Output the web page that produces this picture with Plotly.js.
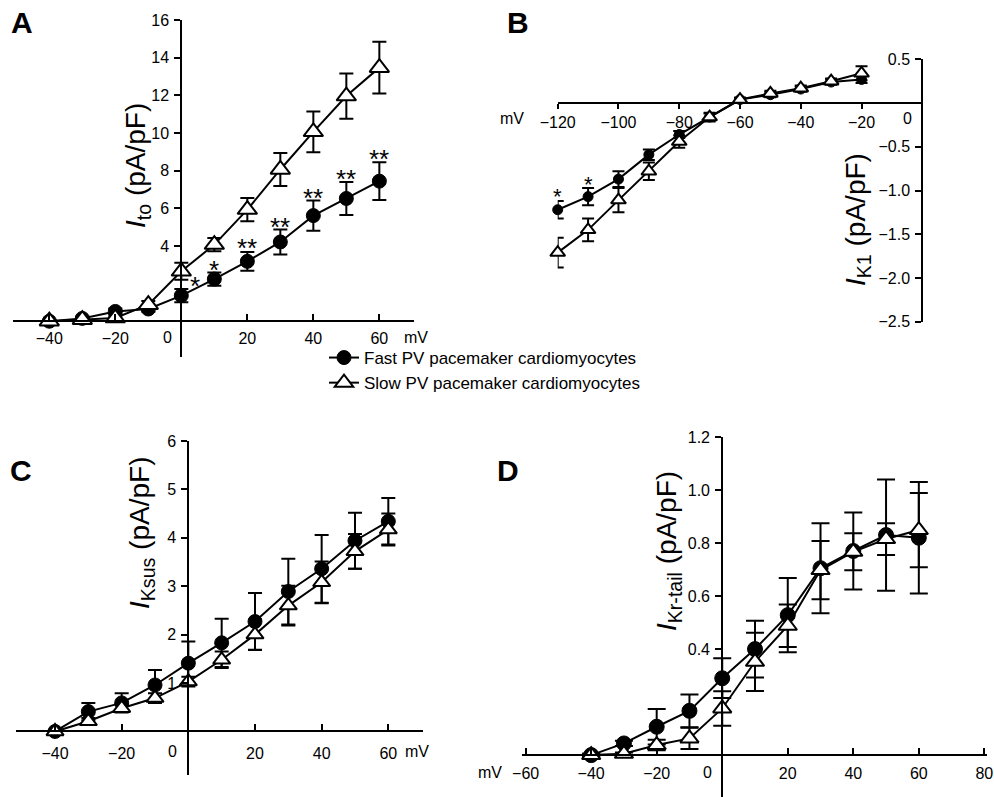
<!DOCTYPE html>
<html>
<head>
<meta charset="utf-8">
<script src="https://cdn.plot.ly/plotly-3.0.1.min.js"></script>
<style>
html,body{margin:0;padding:0;background:#fff;}
#chart{width:994px;height:797px;}
</style>
</head>
<body>
<div id="chart"></div>
<script>
// ---------- data ----------
const voltsA = [-40, -30, -20, -10, 0, 10, 20, 30, 40, 50, 60];
const fastA = [0, 0.15, 0.52, 0.65, 1.36, 2.24, 3.18, 4.21, 5.61, 6.52, 7.44];
const fastAerr = [0.05, 0.1, 0.15, 0.15, 0.35, 0.35, 0.5, 0.66, 0.8, 0.88, 1.0];
const slowA = [0, 0.08, 0.17, 0.88, 2.65, 4.07, 5.93, 8.06, 10.06, 11.96, 13.47];
const slowAerr = [0.05, 0.1, 0.1, 0.2, 0.45, 0.35, 0.62, 0.88, 1.08, 1.2, 1.38];
const starXA = [4, 10, 20, 30, 40, 50, 60];
const starYA = [2.2, 3.0, 4.18, 5.3, 6.84, 7.87, 8.93];
const starTA = ['*', '*', '**', '**', '**', '**', '**'];

const voltsB = [-120, -110, -100, -90, -80, -70, -60, -50, -40, -30, -20];
const fastB = [-1.22, -1.07, -0.87, -0.59, -0.36, -0.16, 0.04, 0.095, 0.16, 0.24, 0.27];
const fastBerr = [0.1, 0.1, 0.09, 0.06, 0.04, 0.04, 0.02, 0.03, 0.03, 0.03, 0.04];
const slowB = [-1.71, -1.45, -1.11, -0.78, -0.44, -0.16, 0.04, 0.11, 0.17, 0.25, 0.34];
const slowBerr = [0.17, 0.13, 0.14, 0.1, 0.07, 0.05, 0.02, 0.03, 0.03, 0.03, 0.08];
const starXB = [-120, -110];
const starYB = [-1.01, -0.88];
const starTB = ['*', '*'];

const voltsC = [-40, -30, -20, -10, 0, 10, 20, 30, 40, 50, 60];
const fastC = [0, 0.41, 0.59, 0.96, 1.41, 1.83, 2.27, 2.89, 3.36, 3.94, 4.34];
const fastCerr = [0.03, 0.18, 0.2, 0.31, 0.45, 0.5, 0.59, 0.68, 0.7, 0.58, 0.48];
const slowC = [0, 0.21, 0.48, 0.69, 1.03, 1.48, 2.0, 2.6, 3.08, 3.72, 4.17];
const slowCerr = [0.03, 0.07, 0.08, 0.1, 0.1, 0.17, 0.31, 0.41, 0.43, 0.36, 0.33];

const voltsD = [-40, -30, -20, -10, 0, 10, 20, 30, 40, 50, 60];
const fastD = [0.0, 0.044, 0.107, 0.167, 0.29, 0.40, 0.528, 0.705, 0.77, 0.83, 0.82];
const fastDerr = [0.005, 0.01, 0.067, 0.062, 0.075, 0.107, 0.14, 0.17, 0.145, 0.21, 0.21];
const slowD = [0.0, 0.005, 0.038, 0.063, 0.176, 0.352, 0.488, 0.698, 0.767, 0.815, 0.849];
const slowDerr = [0.005, 0.005, 0.02, 0.04, 0.065, 0.11, 0.08, 0.11, 0.07, 0.06, 0.14];

const seriesNames = ['Fast PV pacemaker cardiomyocytes', 'Slow PV pacemaker cardiomyocytes'];

const ticksAx = [-40, -20, 0, 20, 40, 60];
const ticksAy = [4, 6, 8, 10, 12, 14, 16];
const ticksBx = [-120, -100, -80, -60, -40, -20, 0];
const ticksBy = [-2.5, -2.0, -1.5, -1.0, -0.5, 0.5];
const ticksCx = [-40, -20, 0, 20, 40, 60];
const ticksCy = [1, 2, 3, 4, 5, 6];
const ticksDx = [-60, -40, -20, 0, 20, 40, 60, 80];
const ticksDy = [0.4, 0.6, 0.8, 1.0, 1.2];

// ---------- geometry ----------
const W = 994, H = 797;
const FONT = 'Arial, "Liberation Sans", Helvetica, sans-serif';
function fmtMinus(v, d) { const s = Math.abs(v).toFixed(d); return (v < 0 ? '\u2212' : '') + s; }

const P = {
  A: {px: [13, 414], py: [20, 357], xr: [-51, 70.5], yr: [-1.9, 16]},
  B: {px: [557.7, 922.3], py: [59.3, 321.7], xr: [-120, 0], yr: [-2.5, 0.5]},
  C: {px: [15.7, 423.3], py: [441, 775], xr: [-51.8, 70.5], yr: [-0.9, 6]},
  D: {px: [521.7, 987.3], py: [437, 797], xr: [-61.2, 80.9], yr: [-0.158, 1.2]}
};
function xdom(p) { return [p.px[0] / W, p.px[1] / W]; }
function ydom(p) { return [(H - p.py[1]) / H, (H - p.py[0]) / H]; }
function zeroX(p) { const d = xdom(p); return d[0] + (d[1] - d[0]) * (0 - p.xr[0]) / (p.xr[1] - p.xr[0]); }
function zeroY(p) { const d = ydom(p); return d[0] + (d[1] - d[0]) * (0 - p.yr[0]) / (p.yr[1] - p.yr[0]); }

const axisCommon = {
  showgrid: false, zeroline: false, showline: true, linecolor: '#000', linewidth: 2,
  tickcolor: '#000', tickwidth: 2, ticklen: 6, tickfont: {family: FONT, size: 16, color: '#000'},
  fixedrange: true
};

// the 0 tick sits on the crossing vertical axis; its "0" label is drawn separately, shifted left
function mkX(p, tickvals, ticks, standoff, len) {
  const tv = tickvals.filter(v => v !== 0);
  return Object.assign({}, axisCommon, {
    domain: xdom(p), range: p.xr, anchor: 'free', position: zeroY(p),
    tickmode: 'array', tickvals: tv, ticktext: tv.map(v => fmtMinus(v, 0)), ticks: ticks,
    ticklabelstandoff: standoff, ticklen: len
  });
}
function mkY(p, tickvals, dec) {
  return Object.assign({}, axisCommon, {
    domain: ydom(p), range: p.yr, anchor: 'free', position: zeroX(p), side: 'left',
    tickmode: 'array', tickvals: tickvals, ticktext: tickvals.map(v => fmtMinus(v, dec)), ticks: 'outside',
    ticklabelstandoff: 2
  });
}

function series(x, y, err, xa, ya, kind, msize, ewidth, legend) {
  const fast = kind === 'fast';
  return {
    type: 'scatter', mode: 'lines+markers', x: x, y: y, xaxis: xa, yaxis: ya,
    name: fast ? seriesNames[0] : seriesNames[1], showlegend: !!legend, legendrank: fast ? 1 : 2,
    line: {color: '#000', width: 2},
    marker: fast ? {symbol: 'circle', size: msize, color: '#000', line: {color: '#000', width: 1}}
                 : {symbol: 'triangle-up', size: msize + 2, color: '#fff', line: {color: '#000', width: 2}},
    error_y: {type: 'data', array: err, visible: true, color: '#000', thickness: 2, width: ewidth},
    hoverinfo: 'skip', cliponaxis: false
  };
}

const data = [
  series(voltsA, fastA, fastAerr, 'x', 'y', 'fast', 14, 7, true),
  series(voltsA, slowA, slowAerr, 'x', 'y', 'slow', 15, 7, true),
  series(voltsB, fastB, fastBerr, 'x2', 'y2', 'fast', 10, 6, false),
  series(voltsB, slowB, slowBerr, 'x2', 'y2', 'slow', 11, 6, false),
  series(voltsC, fastC, fastCerr, 'x3', 'y3', 'fast', 14, 7, false),
  series(voltsC, slowC, slowCerr, 'x3', 'y3', 'slow', 13, 7, false),
  series(voltsD, fastD, fastDerr, 'x4', 'y4', 'fast', 15, 9, false),
  series(voltsD, slowD, slowDerr, 'x4', 'y4', 'slow', 14, 9, false)
];

const annotations = [];
function letter(t, px, py) {
  annotations.push({text: '<b>' + t + '</b>', xref: 'paper', yref: 'paper', x: px / W, y: 1 - py / H,
    xanchor: 'center', yanchor: 'middle', showarrow: false, font: {family: FONT, size: 30, color: '#000'}});
}
letter('A', 22, 22); letter('B', 518, 22); letter('C', 21, 470); letter('D', 508, 470);

function ytitle(html, px, py) {
  annotations.push({text: html, xref: 'paper', yref: 'paper', x: px / W, y: 1 - py / H, textangle: -90,
    xanchor: 'center', yanchor: 'middle', showarrow: false, font: {family: FONT, size: 28, color: '#000'}});
}
ytitle('<i>I</i><sub>to</sub> (pA/pF)', 137, 166);
ytitle('<i>I</i><sub>K1</sub> (pA/pF)', 857, 220);
ytitle('<i>I</i><sub>Ksus</sub> (pA/pF)', 141, 533);
ytitle('<i>I</i><sub>Kr-tail</sub> (pA/pF)', 668, 551);

function belowAxis(text, p, xpx, ys) {
  annotations.push({text: text, xref: 'paper', yref: 'paper', x: xpx / W, y: zeroY(p), xanchor: 'center', yanchor: 'middle',
    yshift: ys, showarrow: false, font: {family: FONT, size: 16, color: '#000'}});
}
function pxOfZero(p) { return zeroX(p) * W; }
belowAxis('mV', P.A, 416, -16);
belowAxis('mV', P.B, 512, -15);
belowAxis('mV', P.C, 417, -20);
belowAxis('mV', P.D, 490, -17);
belowAxis('0', P.A, pxOfZero(P.A) - 14, -16);
belowAxis('0', P.B, pxOfZero(P.B) - 15, -15);
belowAxis('0', P.C, pxOfZero(P.C) - 16, -20);
belowAxis('0', P.D, pxOfZero(P.D) - 15, -17);

function stars(xa, ya, xs, ys, ts, fs) {
  for (let i = 0; i < xs.length; i++) {
    annotations.push({text: ts[i], xref: xa, yref: ya, x: xs[i], y: ys[i], xanchor: 'center', yanchor: 'middle',
      yshift: -0.22 * fs, showarrow: false, font: {family: FONT, size: fs, color: '#000'}});
  }
}
stars('x', 'y', starXA, starYA, starTA, 26);
stars('x2', 'y2', starXB, starYB, starTB, 22);

const layout = {
  width: W, height: H, margin: {l: 0, r: 0, t: 0, b: 0}, paper_bgcolor: '#fff', plot_bgcolor: 'rgba(0,0,0,0)',
  font: {family: FONT, color: '#000'},
  showlegend: true,
  legend: {x: 324 / W, y: 1 - 340 / H, xanchor: 'left', yanchor: 'top', bgcolor: 'rgba(0,0,0,0)',
    font: {family: FONT, size: 17, color: '#000'}, itemwidth: 30, tracegroupgap: 0, itemclick: false},
  xaxis: mkX(P.A, ticksAx, 'inside', 3, 6),
  yaxis: mkY(P.A, ticksAy, 0),
  xaxis2: mkX(P.B, ticksBx, 'outside', 0, 5),
  yaxis2: mkY(P.B, ticksBy, 1),
  xaxis3: mkX(P.C, ticksCx, 'inside', 7, 6),
  yaxis3: mkY(P.C, ticksCy, 0),
  xaxis4: mkX(P.D, ticksDx, 'inside', 4, 6),
  yaxis4: mkY(P.D, ticksDy, 1),
  annotations: annotations
};

Plotly.newPlot('chart', data, layout, {staticPlot: true, displayModeBar: false});
</script>
</body>
</html>
